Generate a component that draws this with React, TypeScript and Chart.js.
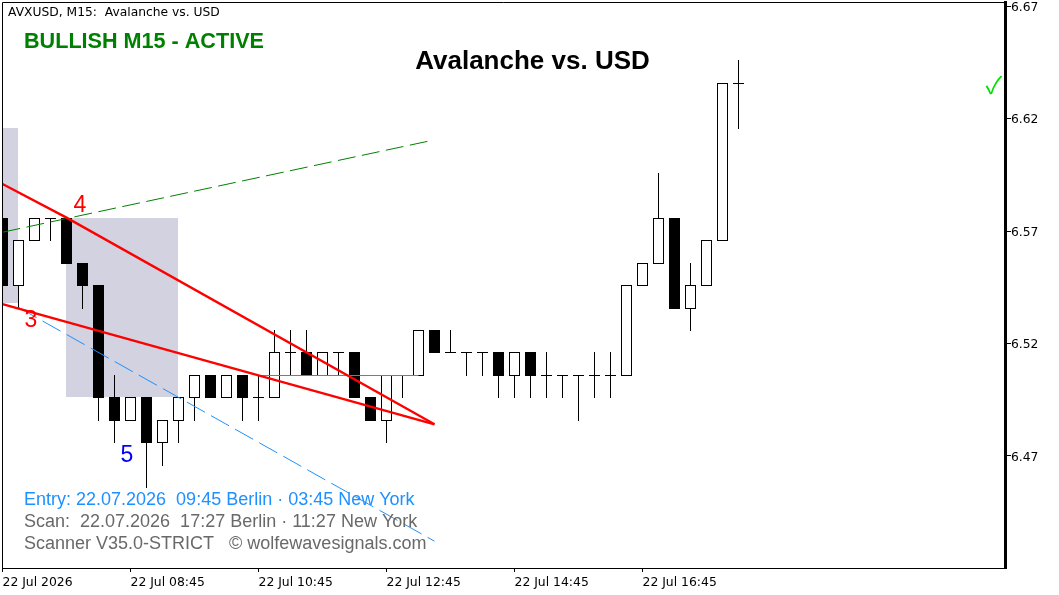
import React, { useEffect, useRef } from 'react'
import { Chart, registerables } from 'chart.js'

Chart.register(...registerables)

const opens = [6.576, 6.546, 6.566, 6.576, 6.576, 6.556, 6.546, 6.496, 6.486, 6.496, 6.476, 6.486, 6.496, 6.506, 6.496, 6.506, 6.496, 6.496, 6.516, 6.516, 6.506, 6.516, 6.516, 6.496, 6.486, 6.506, 6.506, 6.526, 6.516, 6.516, 6.516, 6.516, 6.506, 6.516, 6.506, 6.506, 6.506, 6.506, 6.506, 6.506, 6.546, 6.556, 6.576, 6.536, 6.546, 6.566, 6.636]
const closes = [6.546, 6.566, 6.576, 6.576, 6.556, 6.546, 6.496, 6.486, 6.496, 6.476, 6.486, 6.496, 6.506, 6.496, 6.506, 6.496, 6.496, 6.516, 6.516, 6.506, 6.516, 6.516, 6.496, 6.486, 6.506, 6.506, 6.526, 6.516, 6.516, 6.516, 6.516, 6.506, 6.516, 6.506, 6.506, 6.506, 6.506, 6.506, 6.506, 6.546, 6.556, 6.576, 6.536, 6.546, 6.566, 6.636, 6.636]
const highs = [6.576, 6.566, 6.576, 6.576, 6.576, 6.556, 6.546, 6.506, 6.496, 6.496, 6.486, 6.496, 6.506, 6.506, 6.506, 6.506, 6.506, 6.526, 6.526, 6.526, 6.516, 6.516, 6.516, 6.496, 6.506, 6.506, 6.526, 6.526, 6.526, 6.516, 6.516, 6.516, 6.516, 6.516, 6.516, 6.506, 6.506, 6.516, 6.516, 6.546, 6.556, 6.596, 6.576, 6.556, 6.566, 6.636, 6.646]
const lows = [6.546, 6.536, 6.566, 6.566, 6.556, 6.536, 6.486, 6.476, 6.486, 6.456, 6.466, 6.476, 6.486, 6.496, 6.496, 6.486, 6.486, 6.496, 6.506, 6.506, 6.506, 6.506, 6.496, 6.486, 6.476, 6.496, 6.506, 6.516, 6.516, 6.506, 6.506, 6.496, 6.496, 6.496, 6.496, 6.496, 6.486, 6.496, 6.496, 6.506, 6.546, 6.556, 6.536, 6.526, 6.546, 6.566, 6.616]

const xTickBars = [0, 8, 16, 24, 32, 40]
const xTickLabels = ['22 Jul 2026', '22 Jul 08:45', '22 Jul 10:45', '22 Jul 12:45', '22 Jul 14:45', '22 Jul 16:45']
const yTicks = [6.67, 6.62, 6.57, 6.52, 6.47]

// [bar, price] ends of each drawn object
const upperWedge = [[0, 6.591], [4, 6.576], [27, 6.484]]
const lowerWedge = [[0, 6.5375], [27, 6.484]]
const greenLine = [[0, 6.5695], [26.6, 6.610]]
const blueLine = [[1, 6.536], [27, 6.432]]
const entryLevel = [[16, 6.506], [26, 6.506]]

const zones = [
    { from: -1, to: 0.969, top: 6.616, bottom: 6.538 },
    { from: 3.969, to: 10.969, top: 6.576, bottom: 6.496 },
]

const waveLabels = [
    { text: '4', bar: 4.84, price: 6.5815, color: '#ff0000' },
    { text: '3', bar: 1.78, price: 6.53, color: '#ff0000' },
    { text: '5', bar: 7.78, price: 6.47, color: '#0000ff' },
]

// one bar is 16px wide and a price unit is 2247px high
const yMax = 6.67196
const yMin = 6.42007
const pxPerUnit = 2247

// MT5 paints on whole pixel rows, so prices get snapped to the row they land on
const rowPrice = (price: number, shift = 0) => {
    const row = Math.round((yMax - price) * pxPerUnit) + shift
    return yMax - row / pxPerUnit
}

const toPoints = (line: number[][]) => line.map(([x, y]) => ({ x, y }))

const allBars = opens.map((_, i) => i)
const bodyBars = allBars.filter(i => opens[i] !== closes[i])
const dojiBars = allBars.filter(i => opens[i] === closes[i])

const overlay = {
    id: 'overlay',
    afterDatasetsDraw(chart: any) {
        const { ctx, chartArea, scales } = chart
        ctx.save()

        ctx.strokeStyle = '#000000'
        ctx.lineWidth = 1
        ctx.beginPath()
        ctx.moveTo(chartArea.left + 0.5, chartArea.bottom)
        ctx.lineTo(chartArea.left + 0.5, chartArea.top + 0.5)
        ctx.lineTo(chartArea.right, chartArea.top + 0.5)
        ctx.stroke()

        ctx.textBaseline = 'middle'
        ctx.textAlign = 'center'
        ctx.font = '23px "Liberation Sans"'
        waveLabels.forEach(l => {
            ctx.fillStyle = l.color
            ctx.fillText(l.text, scales.x.getPixelForValue(l.bar), scales.y.getPixelForValue(l.price))
        })

        ctx.fillStyle = '#000000'
        ctx.font = 'bold 26px "Liberation Sans"'
        ctx.fillText('Avalanche vs. USD', 532.5, 62)

        ctx.fillStyle = '#00e000'
        ctx.font = '24px "Noto Sans CJK SC"'
        ctx.fillText('\u2713', 994, 85)

        ctx.textAlign = 'left'
        ctx.fillStyle = '#000000'
        ctx.font = '12.3px "DejaVu Sans"'
        ctx.fillText('AVXUSD, M15:  Avalanche vs. USD', 8, 13)

        ctx.fillStyle = '#008000'
        ctx.font = 'bold 21.6px "Liberation Sans"'
        ctx.fillText('BULLISH M15 - ACTIVE', 24, 42)

        ctx.font = '18px "Liberation Sans"'
        ctx.fillStyle = '#1e90ff'
        ctx.fillText('Entry: 22.07.2026  09:45 Berlin \u00b7 03:45 New York', 24, 500)
        ctx.fillStyle = '#696969'
        ctx.fillText('Scan:  22.07.2026  17:27 Berlin \u00b7 11:27 New York', 24, 522)
        ctx.fillText('Scanner V35.0-STRICT   \u00a9 wolfewavesignals.com', 24, 544)

        ctx.restore()
    },
}

const App = () => {
    const canvasReference = useRef<HTMLCanvasElement>(null)

    useEffect(() => {
        document.body.style.margin = '0'

        const trendLine = (data: number[][], color: string, width: number, dash: number[], order: number) => ({
            type: 'line',
            data: toPoints(data),
            borderColor: color,
            borderWidth: width,
            borderDash: dash,
            pointRadius: 0,
            tension: 0,
            order,
        })

        const myChart = new Chart(canvasReference.current, {
            type: 'bar',
            plugins: [overlay],
            data: {
                datasets: [
                    ...zones.map(z => ({
                        type: 'line',
                        data: [{ x: z.from, y: rowPrice(z.top) }, { x: z.to, y: rowPrice(z.top) }],
                        fill: { value: rowPrice(z.bottom) },
                        backgroundColor: '#d2d2e0',
                        borderWidth: 0,
                        pointRadius: 0,
                        order: 10,
                    })),
                    {
                        // wicks
                        data: allBars.map(i => ({ x: i, y: [rowPrice(lows[i], 1), rowPrice(highs[i])] })),
                        backgroundColor: '#000000',
                        barThickness: 1,
                        grouped: false,
                        inflateAmount: 0,
                        order: 6,
                    },
                    {
                        // bodies, the bottom outline sits on the row of the level itself
                        data: bodyBars.map(i => ({
                            x: i,
                            y: [rowPrice(Math.min(opens[i], closes[i]), 1), rowPrice(Math.max(opens[i], closes[i]))],
                        })),
                        backgroundColor: bodyBars.map(i => (closes[i] > opens[i] ? '#ffffff' : '#000000')),
                        borderColor: '#000000',
                        borderWidth: 1,
                        borderSkipped: false,
                        barThickness: 11,
                        grouped: false,
                        inflateAmount: 0,
                        order: 5,
                    },
                    {
                        // open == close, just the dash
                        type: 'line',
                        data: dojiBars.map(i => ({ x: i, y: rowPrice(opens[i], 0.5) })),
                        showLine: false,
                        pointStyle: 'line',
                        pointRadius: 5.5,
                        pointBorderColor: '#000000',
                        pointBorderWidth: 1,
                        order: 4,
                    },
                    trendLine(entryLevel.map(([x, y]) => [x, rowPrice(y, 0.5)]), '#1e90ff', 1, [], 3),
                    trendLine(greenLine, '#008000', 1, [18, 6.5], 2),
                    trendLine(blueLine, '#1e90ff', 1, [20.7, 6.9], 2),
                    trendLine(upperWedge, '#ff0000', 2.3, [], 1),
                    trendLine(lowerWedge, '#ff0000', 2.3, [], 1),
                ],
            },
            options: {
                responsive: false,
                devicePixelRatio: 1,
                animation: false,
                layout: { padding: { top: 2, left: 2, right: 0, bottom: 0 }, autoPadding: false },
                plugins: {
                    legend: { display: false },
                    tooltip: { enabled: false },
                },
                scales: {
                    x: {
                        type: 'linear',
                        offset: false,
                        min: -0.03125,
                        max: 62.65625,
                        afterBuildTicks: (scale: any) => {
                            scale.ticks = xTickBars.map(value => ({ value }))
                        },
                        afterFit: (scale: any) => {
                            scale.height = 27
                            scale.paddingLeft = 0
                            scale.paddingRight = 0
                        },
                        border: { color: '#000000', width: 1 },
                        grid: { offset: false, drawOnChartArea: false, color: '#000000', tickLength: 4 },
                        ticks: {
                            autoSkip: false,
                            maxRotation: 0,
                            align: 'start',
                            padding: 3,
                            color: '#000000',
                            font: { family: '"DejaVu Sans"', size: 12.4 },
                            callback: (value: number) => xTickLabels[xTickBars.indexOf(value)],
                        },
                    },
                    y: {
                        position: 'right',
                        min: yMin,
                        max: yMax,
                        afterBuildTicks: (scale: any) => {
                            scale.ticks = yTicks.map(value => ({ value }))
                        },
                        afterFit: (scale: any) => {
                            scale.width = 54
                            scale.paddingTop = 0
                            scale.paddingBottom = 0
                        },
                        border: { color: '#000000', width: 3 },
                        grid: { drawOnChartArea: false, color: '#000000', tickLength: 6 },
                        ticks: {
                            padding: 0,
                            labelOffset: 1.5,
                            color: '#000000',
                            font: { family: '"DejaVu Sans"', size: 12.3 },
                            callback: (value: number) => value.toFixed(2),
                        },
                    },
                },
            },
        } as any)

        return () => {
            myChart.destroy()
        }
    }, [])

    return <div style={{ width: 1059, height: 595, background: '#ffffff' }}>
        <canvas ref={canvasReference} width={1059} height={595} style={{ display: 'block' }}></canvas>
    </div>
}

export default App
